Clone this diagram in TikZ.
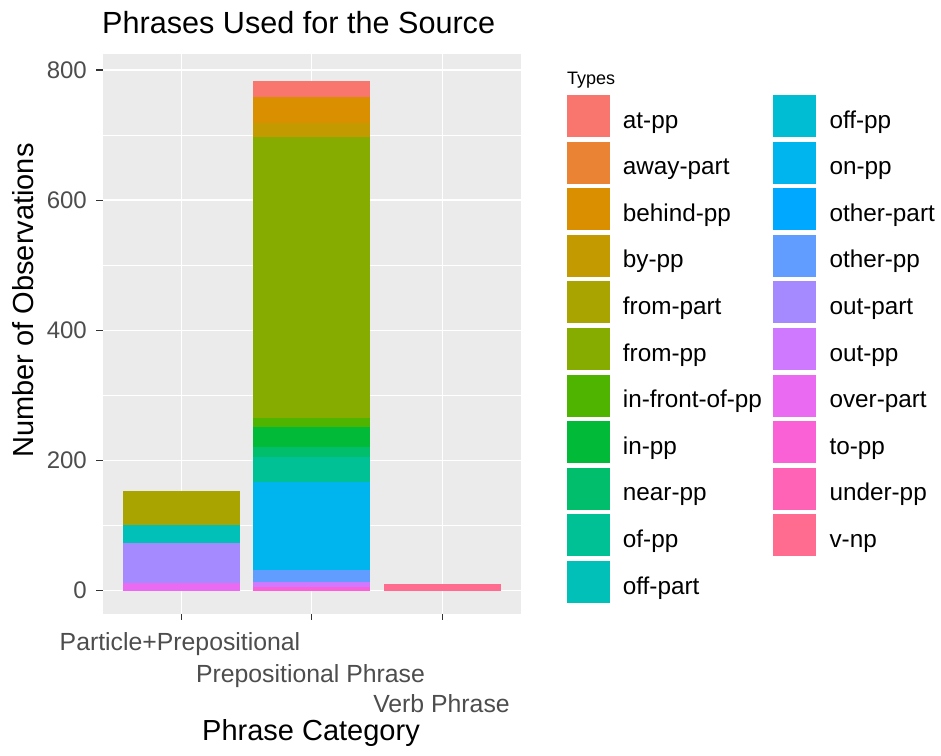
\documentclass[tikz,border=0pt]{standalone}
\usepackage{fontspec}
\setmainfont{Liberation Sans}
\definecolor{panelbg}{HTML}{EBEBEB}
\definecolor{tickc}{HTML}{333333}
\definecolor{ticklab}{HTML}{4D4D4D}
\definecolor{c1}{HTML}{F8766D}
\definecolor{c2}{HTML}{EB8335}
\definecolor{c3}{HTML}{DA8F00}
\definecolor{c4}{HTML}{C39A00}
\definecolor{c5}{HTML}{A9A400}
\definecolor{c6}{HTML}{86AC00}
\definecolor{c7}{HTML}{4FB400}
\definecolor{c8}{HTML}{00BA38}
\definecolor{c9}{HTML}{00BE6C}
\definecolor{c10}{HTML}{00C096}
\definecolor{c11}{HTML}{00C0B8}
\definecolor{c12}{HTML}{00BDD4}
\definecolor{c13}{HTML}{00B5EE}
\definecolor{c14}{HTML}{00A9FF}
\definecolor{c15}{HTML}{619CFF}
\definecolor{c16}{HTML}{A58AFF}
\definecolor{c17}{HTML}{CE79FF}
\definecolor{c18}{HTML}{EA6AF1}
\definecolor{c19}{HTML}{FB61D7}
\definecolor{c20}{HTML}{FF63B6}
\definecolor{c21}{HTML}{FF6C90}
\begin{document}
\begin{tikzpicture}[x=1pt,y=-1pt,
  majorgrid/.style={white,line width=1.5pt},
  minorgrid/.style={white,line width=0.75pt},
  tickmark/.style={tickc,line width=1.2pt},
  ylab/.style={anchor=east,inner sep=0pt,text=ticklab,font=\fontsize{24}{28}\selectfont},
  xlab/.style={anchor=base,inner sep=0pt,text=ticklab,font=\fontsize{24.8}{28}\selectfont},
  axtitle/.style={inner sep=0pt,font=\fontsize{29}{33}\selectfont},
  legkey/.style={inner sep=0pt},
  leglab/.style={anchor=base west,inner sep=0pt,font=\fontsize{24.3}{28}\selectfont}]
\useasboundingbox (0,0) rectangle (941,755);
\fill[white] (0,0) rectangle (941,755);
% panel
\fill[panelbg] (103.4,54) rectangle (520.5,613.5);
\begin{scope}[shift={(0,590.5)},yscale=-0.6506]
  \foreach \v in {100,300,500,700} \draw[minorgrid] (103.4,\v) -- (520.5,\v);
  \foreach \v in {0,200,400,600,800} \draw[majorgrid] (103.4,\v) -- (520.5,\v);
\end{scope}
\foreach \x in {181.7,311.7,442.7} \draw[majorgrid] (\x,54) -- (\x,613.5);
% bars
\begin{scope}[shift={(0,590.5)},yscale=-0.6506]
  % Particle+Prepositional
  \fill[c18] (123,0) rectangle (240.4,11);
  \fill[c16] (123,11) rectangle (240.4,72.5);
  \fill[c11] (123,72.5) rectangle (240.4,100.7);
  \fill[c5]  (123,100.7) rectangle (240.4,153);
  % Prepositional Phrase
  \fill[c19] (253,0) rectangle (370.4,5);
  \fill[c17] (253,5) rectangle (370.4,13);
  \fill[c15] (253,13) rectangle (370.4,31.5);
  \fill[c13] (253,31.5) rectangle (370.4,167);
  \fill[c10] (253,167) rectangle (370.4,205.7);
  \fill[c9]  (253,205.7) rectangle (370.4,221);
  \fill[c8]  (253,221) rectangle (370.4,251.8);
  \fill[c7]  (253,251.8) rectangle (370.4,264.7);
  \fill[c6]  (253,264.7) rectangle (370.4,697);
  \fill[c4]  (253,697) rectangle (370.4,718.6);
  \fill[c3]  (253,718.6) rectangle (370.4,759);
  \fill[c1]  (253,759) rectangle (370.4,783.6);
  % Verb Phrase
  \fill[c21] (384,0) rectangle (501,9.5);
  % y ticks and labels
  \foreach \v in {0,200,400,600,800} {
    \draw[tickmark] (96,\v) -- (103.4,\v);
    \node[ylab] (yl\v) at (87,\v) {\v};
  }
\end{scope}
% x ticks
\foreach \x in {181.7,311.7,442.7} \draw[tickmark] (\x,613.5) -- (\x,620);
\node[xlab] (xl1) at (180,650) {Particle+Prepositional};
\node[xlab] (xl2) at (310.5,682) {Prepositional Phrase};
\node[xlab] (xl3) at (441.5,712) {Verb Phrase};
% axis titles
\node[axtitle,anchor=base] (xt) at (311,740) {Phrase Category};
\node[axtitle,anchor=base,rotate=90] (yt) at (33.5,300.5) {Number of Observations};
% title
\node[anchor=base west,inner sep=0pt,font=\fontsize{30.6}{34}\selectfont] (title) at (102,33.5) {Phrases Used for the Source};
% legend
\node[anchor=base west,inner sep=0pt,font=\fontsize{18}{20}\selectfont] (legtitle) at (567,84) {Types};
\foreach \lab/\col [count=\k from 0] in {at-pp/c1,away-part/c2,behind-pp/c3,by-pp/c4,from-part/c5,from-pp/c6,in-front-of-pp/c7,in-pp/c8,near-pp/c9,of-pp/c10,off-part/c11} {
  \fill[\col] (567,95+46.6*\k) rectangle (610,137+46.6*\k);
  \node[leglab] (ll\k) at (622.7,128+46.6*\k) {\lab};
}
\foreach \lab/\col [count=\k from 0] in {off-pp/c12,on-pp/c13,other-part/c14,other-pp/c15,out-part/c16,out-pp/c17,over-part/c18,to-pp/c19,under-pp/c20,v-np/c21} {
  \fill[\col] (773,95+46.6*\k) rectangle (816,137+46.6*\k);
  \node[leglab] (lr\k) at (829.3,128+46.6*\k) {\lab};
}
\end{tikzpicture}
\end{document}
